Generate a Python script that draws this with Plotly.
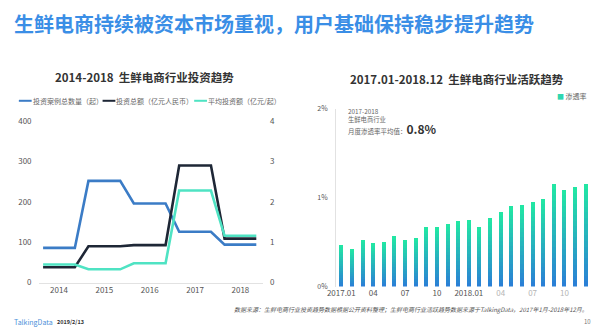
import plotly.graph_objects as go

FONT = "Noto Sans CJK SC"
W, H = 598, 336

# ---- investment trend 2014-2018 ----
years = ["2014", "2015", "2016", "2017", "2018"]
deal_count = [86, 252, 196, 126, 94]            # 投资案例总数量（起）
total_invest = [38, 90, 93, 290, 109]            # 投资总额（亿元人民币）
avg_invest = [0.45, 0.33, 0.48, 2.28, 1.16]      # 平均投资额（亿元/起）

# ---- monthly penetration 2017.01-2018.12 ----
months = ["2017.01", "02", "03", "04", "05", "06", "07", "08", "09", "10", "11", "12",
          "2018.01", "02", "03", "04", "05", "06", "07", "08", "09", "10", "11", "12"]
penetration = [0.47, 0.43, 0.53, 0.49, 0.51, 0.57, 0.53, 0.55, 0.67, 0.67, 0.71, 0.74,
               0.75, 0.67, 0.77, 0.84, 0.91, 0.92, 0.95, 0.99, 1.16, 1.09, 1.12, 1.16]
month_ticks = [0, 3, 6, 9, 12, 15, 18, 21]

BLUE, NAVY, TEAL = "#3b7cc6", "#1e2736", "#4fe3c3"


def px_x(p):
    return p / W


def px_y(p):
    return 1 - p / H


def plateau(vals, half=0.35):
    """Each year is held flat across its band, with sloped joins between years."""
    xs, ys = [], []
    for i, v in enumerate(vals):
        xs += [i - half, i + half]
        ys += [v, v]
    return xs, ys


fig = go.Figure()

for vals, color, axis in [(deal_count, BLUE, "y"), (total_invest, NAVY, "y"),
                          (avg_invest, TEAL, "y2")]:
    xs, ys = plateau(vals)
    fig.add_trace(go.Scatter(x=xs, y=ys, mode="lines", xaxis="x", yaxis=axis,
                             line=dict(color=color, width=2.6), showlegend=False,
                             hoverinfo="skip"))

# gradient bars: each bar is split into stacked slices from blue (bottom) to green (top)
N = 18
c0 = (42, 128, 214)
c1 = (34, 230, 164)
for k in range(N):
    t = k / (N - 1)
    col = "rgb(%d,%d,%d)" % tuple(round(a + (b - a) * t) for a, b in zip(c0, c1))
    fig.add_trace(go.Bar(x=list(range(len(months))), y=[v / N for v in penetration],
                         xaxis="x3", yaxis="y3", width=0.38,
                         marker=dict(color=col, line=dict(width=0)),
                         showlegend=False, hoverinfo="skip"))

tick_txt = []
for i in month_ticks:
    lab = months[i]
    if i > 12:
        lab = '<span style="color:#b5b5b5">%s</span>' % lab
    tick_txt.append(lab)

axis_font = dict(family=FONT, size=8, color="#555")
fig.update_layout(
    width=W, height=H, margin=dict(l=0, r=0, t=0, b=0),
    paper_bgcolor="white", plot_bgcolor="white", barmode="stack", bargap=0,
    font=dict(family=FONT),
    xaxis=dict(domain=[px_x(30), px_x(258)], range=[-0.45, 4.5], tickvals=list(range(5)),
               ticktext=years, showgrid=False, zeroline=False, showline=True,
               linecolor="#e2e2e2", linewidth=1, ticks="", tickfont=axis_font),
    yaxis=dict(domain=[px_y(286), px_y(119)], range=[0, 400], tickvals=[0, 100, 200, 300, 400],
               showgrid=False, zeroline=False, showline=False, ticks="", tickfont=axis_font,
               ticklabelstandoff=6),
    yaxis2=dict(overlaying="y", side="right", range=[0, 4], tickvals=[0, 1, 2, 3, 4],
                showgrid=False, zeroline=False, showline=False, ticks="", tickfont=axis_font,
                ticklabelstandoff=6),
    xaxis3=dict(domain=[px_x(332), px_x(592)], range=[-0.5, 23.6], anchor="y3",
                tickvals=month_ticks, ticktext=tick_txt, showgrid=False, zeroline=False,
                showline=False, ticks="", tickfont=axis_font),
    yaxis3=dict(domain=[px_y(290), px_y(106)], range=[0, 2], anchor="x3",
                tickvals=[0, 1, 2], ticktext=["0%", "1%", "2%"], showgrid=False,
                zeroline=False, showline=True, linecolor="#e2e2e2", linewidth=1,
                ticks="", tickfont=dict(family=FONT, size=7, color="#555"),
                ticklabelstandoff=6),
)

ann = []


def text(x, y, s, size, color="#333", xanchor="left", yanchor="middle", align="left"):
    ann.append(dict(x=px_x(x), y=px_y(y), xref="paper", yref="paper", text=s,
                    showarrow=False, xanchor=xanchor, yanchor=yanchor, align=align,
                    borderpad=0, font=dict(family=FONT, size=size, color=color)))


text(4, 18, "<b>生鲜电商持续被资本市场重视，用户基础保持稳步提升趋势</b>", 20, "#3a8ee6")
text(138, 73, "<b>2014-2018  生鲜电商行业投资趋势</b>", 11.5, "#333", "center")
text(455, 75, "<b>2017.01-2018.12  生鲜电商行业活跃趋势</b>", 11.5, "#333", "center")

# legend for the investment chart
shapes = []
legend_items = [(10, BLUE, "投资案例总数量（起）"), (95, NAVY, "投资总额（亿元人民币）"),
                (188, TEAL, "平均投资额（亿元/起）")]
for x0, color, label in legend_items:
    shapes.append(dict(type="line", xref="paper", yref="paper", x0=px_x(x0), x1=px_x(x0 + 13),
                       y0=px_y(98), y1=px_y(98), line=dict(color=color, width=2)))
    text(x0 + 13, 98, label, 7, "#666")

# legend for the penetration chart
text(588, 93, '<span style="color:#2fd6b0">■</span> 渗透率', 7, "#666", "right")

# note box inside the bar chart
text(343, 103, "2017-2018<br>生鲜电商行业", 6.3, "#666", yanchor="top")
text(343, 127, '月度渗透率平均值：<b><span style="font-size:12px;color:#333">0.8%</span></b>',
     6.5, "#666")

# footer
text(589, 314, "<i>数据来源：生鲜电商行业投资趋势数据根据公开资料整理；生鲜电商行业活跃趋势数据来源于TalkingData，2017年1月-2018年12月。</i>",
     6, "#555", "right")
text(4, 327, "TalkingData", 7, "#4a90d9")
text(48, 327, "<b>2019/2/13</b>", 5.5, "#333")
text(592, 326, "10", 6, "#777", "right")

fig.update_layout(annotations=ann, shapes=shapes)
fig.write_html("out.html")
